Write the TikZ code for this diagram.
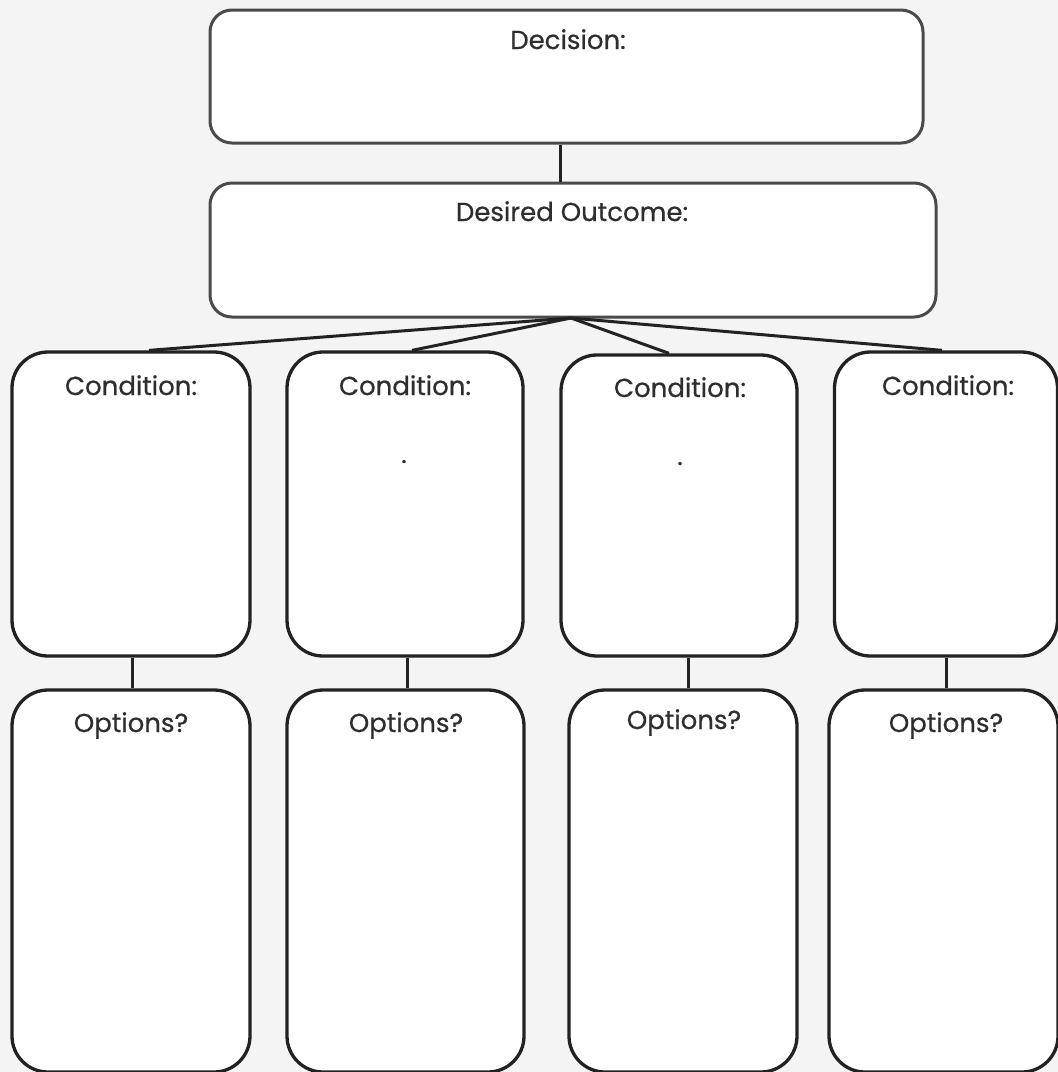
\documentclass[tikz,border=0pt]{standalone}
\usepackage{fontspec}
\setmainfont{Poppins}
\newfontfamily\lblfont{Poppins}[FakeBold=0.6]
\definecolor{bgc}{HTML}{F4F4F4}
\definecolor{linec}{HTML}{222222}
\definecolor{topline}{HTML}{4A4A4A}
\definecolor{txt}{HTML}{2E2E2E}
\begin{document}
\begin{tikzpicture}[x=1pt,y=-1pt,
  bigbox/.style={draw=topline,line width=3pt,fill=white,rounded corners=22pt,inner sep=0pt},
  smallbox/.style={draw=linec,line width=3.3pt,fill=white,rounded corners=36pt,inner sep=0pt},
  lbl/.style={anchor=base,text=txt,font=\lblfont\fontsize{26}{30}\selectfont,inner sep=0pt},
  conn/.style={draw=linec,line width=3pt}]
\useasboundingbox[fill=bgc] (0,0) rectangle (1058,1072);
% top boxes
\node[bigbox,minimum width=713pt,minimum height=133pt] (dec) at (566.5,76.5) {};
\node[bigbox,minimum width=726pt,minimum height=134pt] (out) at (573,250) {};
\node[lbl] (tdec) at (568,49) {Decision:};
\node[lbl] (tout) at (572,221) {Desired Outcome:};
% condition boxes
\node[smallbox,minimum width=238pt,minimum height=304pt] (c1) at (131,504) {};
\node[smallbox,minimum width=236pt,minimum height=304pt] (c2) at (405,504) {};
\node[smallbox,minimum width=236pt,minimum height=301pt] (c3) at (679,505.5) {};
\node[smallbox,minimum width=223pt,minimum height=304pt] (c4) at (946,504) {};
\node[lbl] (tc1) at (131,395) {Condition:};
\node[lbl] (tc2) at (405,395) {Condition:};
\node[lbl] (tc3) at (680,397) {Condition:};
\node[lbl] (tc4) at (948,395) {Condition:};
\node[lbl] (dot2) at (404,463) {.};
\node[lbl] (dot3) at (680,465) {.};
% option boxes
\node[smallbox,minimum width=238pt,minimum height=382pt] (o1) at (131,881) {};
\node[smallbox,minimum width=237pt,minimum height=382pt] (o2) at (405.5,881) {};
\node[smallbox,minimum width=228pt,minimum height=382pt] (o3) at (683,881) {};
\node[smallbox,minimum width=229pt,minimum height=382pt] (o4) at (943.5,881) {};
\node[lbl] (to1) at (131,732) {Options?};
\node[lbl] (to2) at (406,732) {Options?};
\node[lbl] (to3) at (684,729) {Options?};
\node[lbl] (to4) at (946,732) {Options?};
% connectors
\coordinate (hub) at (571,318);
\draw[conn] ([xshift=-6.5pt]dec.south) -- ([xshift=-13pt]out.north);
\draw[conn] (hub) -- ([xshift=18pt]c1.north);
\draw[conn] (hub) -- ([xshift=7pt]c2.north);
\draw[conn] (hub) -- ([xshift=-10pt]c3.north);
\draw[conn] (hub) -- ([xshift=-4pt]c4.north);
\draw[conn] ([xshift=1pt]c1.south) -- ([xshift=1pt]c1.south |- o1.north);
\draw[conn] ([xshift=2pt]c2.south) -- ([xshift=2pt]c2.south |- o2.north);
\draw[conn] ([xshift=9pt]c3.south) -- ([xshift=9pt]c3.south |- o3.north);
\draw[conn] (c4.south) -- (c4.south |- o4.north);
\end{tikzpicture}
\end{document}
